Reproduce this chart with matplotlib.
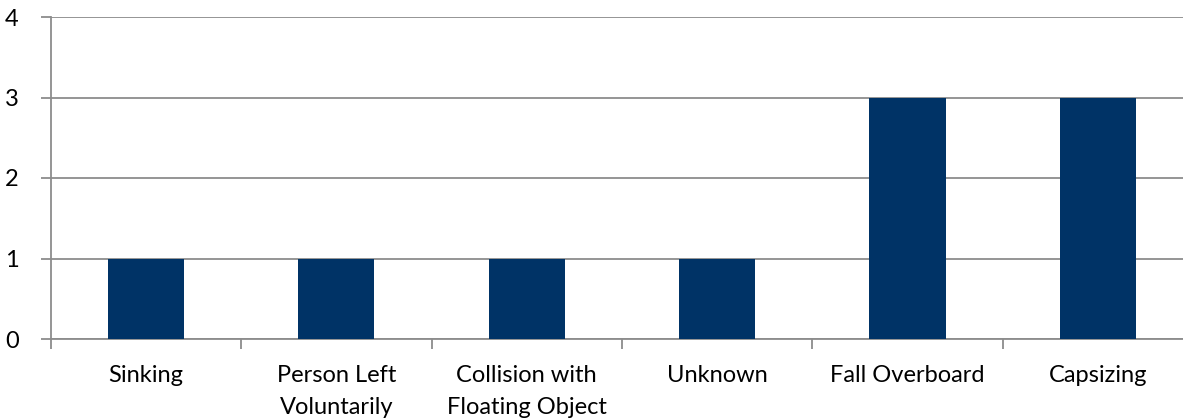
import matplotlib
matplotlib.use("Agg")
import matplotlib.pyplot as plt
import numpy as np

categories = ["Sinking", "Person Left\nVoluntarily", "Collision with\nFloating Object",
              "Unknown", "Fall Overboard", "Capsizing"]
values = [1, 1, 1, 1, 3, 3]
yticks = [0, 1, 2, 3, 4]

plt.rcParams['font.family'] = ['Lato', 'DejaVu Sans']

W, H = 1183, 420
fig = plt.figure(figsize=(W/100, H/100), dpi=100)
ax = fig.add_axes([50.8/W, 1-339/H, (1193-50.8)/W, (339-17)/H])

x = np.arange(len(categories))
ax.bar(x, values, width=0.4, color="#003366", zorder=3)
ax.set_xlim(-0.5, len(categories)-0.5)
ax.set_ylim(0, 4)
ax.set_yticks(yticks)
ax.set_yticklabels([str(v) for v in yticks], fontsize=17)
ax.yaxis.grid(True, color="#8c8c8c", linewidth=1.3, zorder=0)

ax.set_xticks(x)
ax.set_xticklabels(categories, fontsize=17, linespacing=1.6)
ax.tick_params(axis='x', length=0, pad=19)
ax.set_xticks(np.arange(len(categories)+1) - 0.5, minor=True)
ax.tick_params(axis='x', which='minor', length=7, width=1.3, color="#8c8c8c")
ax.tick_params(axis='y', length=7, width=1.3, color="#8c8c8c", pad=16)

for s in ["top", "right"]:
    ax.spines[s].set_visible(False)
for s in ["left", "bottom"]:
    ax.spines[s].set_color("#8c8c8c")
    ax.spines[s].set_linewidth(1.3)

fig.savefig("out.png", dpi=100)
